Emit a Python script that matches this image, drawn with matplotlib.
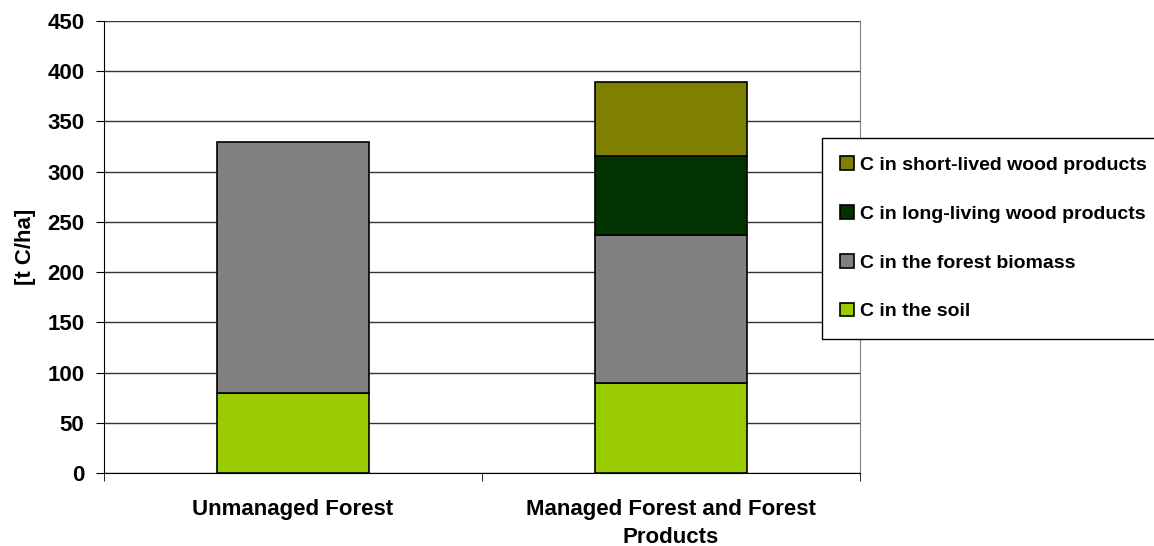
import matplotlib.pyplot as plt
import numpy as np

# categories and stacked values [t C/ha]
categories = ["Unmanaged Forest", "Managed Forest and Forest\nProducts"]
soil = [80, 90]
biomass = [250, 147]
long_living = [0, 79]
short_lived = [0, 73]

series_labels = ["C in the soil", "C in the forest biomass",
                 "C in long-living wood products", "C in short-lived wood products"]
series_colors = ["#99CC00", "#808080", "#003300", "#808000"]

plt.rcParams['font.family'] = ['Liberation Sans', 'DejaVu Sans']
plt.rcParams['font.weight'] = 'bold'

fig = plt.figure(figsize=(11.54, 5.46), dpi=100)
ax = fig.add_axes([104 / 1154, 1 - 473 / 546, (860 - 104) / 1154, (473 - 21) / 546])

# stacked bars, skip zero segments
x = np.arange(len(categories))
bottom = np.zeros(len(categories))
handles = []
for vals, lab, col in zip([soil, biomass, long_living, short_lived], series_labels, series_colors):
    vals = np.array(vals, dtype=float)
    mask = vals > 0
    b = ax.bar(x[mask], vals[mask], bottom=bottom[mask], width=0.4, color=col,
               edgecolor='black', linewidth=1.2, zorder=3, label=lab)
    handles.append(b)
    bottom += vals

ax.set_xlim(-0.5, 1.5)
ax.set_ylim(0, 450)
ax.set_yticks(np.arange(0, 451, 50))
ax.yaxis.grid(True, color='#333333', linewidth=1, zorder=0)
ax.tick_params(axis='y', direction='out', length=6, labelsize=16, pad=8, color='black')

# category labels centred, tick marks between categories
ax.set_xticks(x)
ax.set_xticklabels(categories, fontsize=16, fontweight='bold', linespacing=1.4)
ax.tick_params(axis='x', which='major', length=0, pad=19)
ax.set_xticks([-0.5, 0.5, 1.5], minor=True)
ax.tick_params(axis='x', which='minor', direction='out', length=6, color='black')

for lbl in ax.get_yticklabels():
    lbl.set_fontweight('bold')

ax.spines['left'].set_color('black')
ax.spines['bottom'].set_color('black')
ax.spines['top'].set_visible(False)
ax.spines['right'].set_color('#808080')

ax.set_ylabel("[t C/ha]", fontsize=16, fontweight='bold', labelpad=8)

leg = fig.legend(handles[::-1], series_labels[::-1], loc='upper left',
                 bbox_to_anchor=(822 / 1154, 1 - 138 / 546), fontsize=14,
                 frameon=True, fancybox=False, edgecolor='black', framealpha=1,
                 handlelength=0.7, handleheight=0.7, handletextpad=0.3,
                 labelspacing=1.6, borderpad=0.95, borderaxespad=0)
leg.get_frame().set_linewidth(1)

fig.savefig("out.png", dpi=100)
